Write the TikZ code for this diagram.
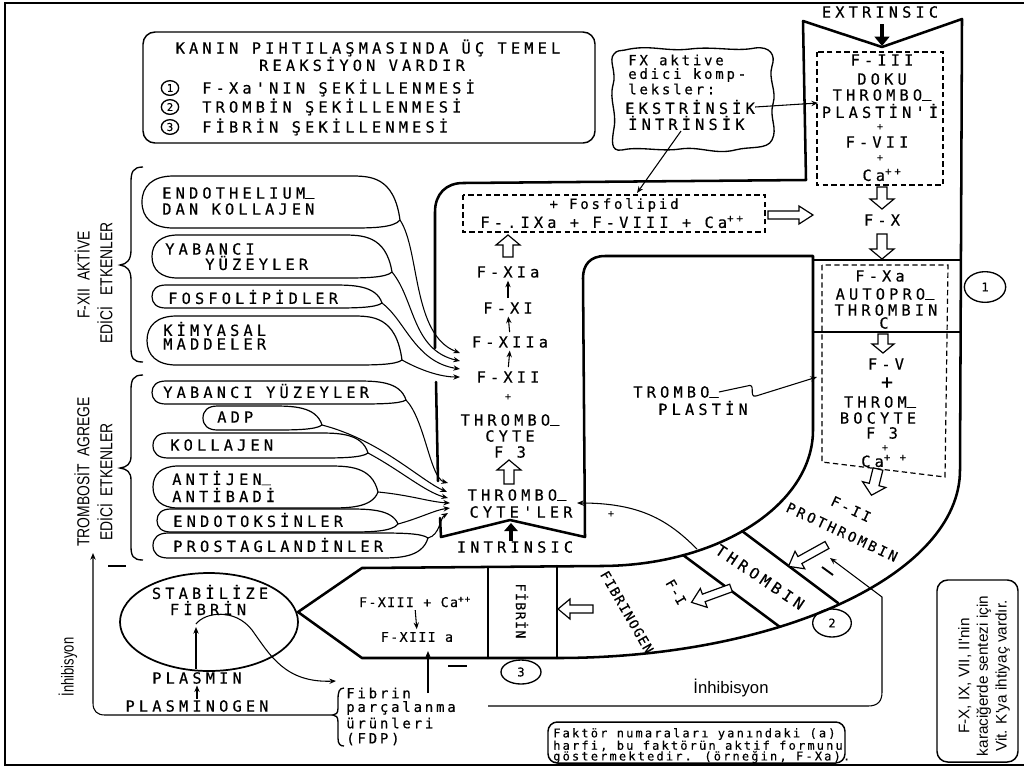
\documentclass[tikz,border=0pt]{standalone}
\usepackage{fontspec}
\setmainfont{DejaVu Sans}
\newfontfamily\lr[LetterSpace=27,FakeBold=0.4]{DejaVu Sans Mono}
\newfontfamily\lrs[LetterSpace=20,FakeBold=0.4]{DejaVu Sans Mono}
\newfontfamily\lrb[LetterSpace=10,FakeBold=0.4]{DejaVu Sans Mono}
\newfontfamily\lrt[LetterSpace=18,FakeBold=0.3]{DejaVu Sans Mono}
\newfontfamily\cond{Liberation Sans}
\usetikzlibrary{arrows.meta,shapes.geometric}

\newcommand{\usc}{\raisebox{0.22em}{\_}}

\newcommand{\bubl}[5]{%
\draw[bub] (#4,#5) .. controls ({#4-6},#2) and ({#4-30},#2) .. ({#4-50},#2)
 -- ({#1+(#3-#2)*0.6},#2)
 .. controls ({#1+(#3-#2)*0.2},#2) and (#1,{#2+(#3-#2)*0.2}) .. (#1,{(#2+#3)/2})
 .. controls (#1,{#3-(#3-#2)*0.2}) and ({#1+(#3-#2)*0.2},#3) .. ({#1+(#3-#2)*0.6},#3)
 -- ({#4-50},#3) .. controls ({#4-30},#3) and ({#4-6},#3) .. (#4,#5);}

\tikzset{pics/harrow/.style n args={4}{code={%
 \draw[line width=0.9pt, fill=white, line join=miter] (0,-#2) -- ({#1-#4},-#2) -- ({#1-#4},-#3) -- (#1,0) -- ({#1-#4},#3) -- ({#1-#4},#2) -- (0,#2) -- cycle;}}}

\begin{document}
\begin{tikzpicture}[x=0.75pt,y=-0.75pt,
 wall/.style={line width=1.9pt, line join=round, line cap=round},
 bub/.style={line width=0.9pt},
 sarr/.style={line width=0.8pt, -{Stealth[length=5pt,width=4pt]}},
 dbox/.style={line width=0.9pt, dash pattern=on 4pt off 2.5pt},
 t/.style={inner sep=0pt, font=\lr\fontsize{11.5}{12}\selectfont},
 ts/.style={inner sep=0pt, font=\lrs\fontsize{10.5}{12}\selectfont},
 tb/.style={inner sep=0pt, font=\lrb\fontsize{10}{12}\selectfont},
 tt/.style={inner sep=0pt, font=\lrt\fontsize{9}{12}\selectfont},
 vl/.style={inner sep=0pt, font=\cond\fontsize{13}{14}\selectfont, rotate=90},
 num/.style={draw, ellipse, line width=1pt, inner sep=0pt, font=\lr\fontsize{9}{10}\selectfont},
 brace/.style={line width=1pt},
 smallplus/.style={inner sep=0pt, font=\lr\fontsize{7.5}{8}\selectfont}
]
\useasboundingbox (0,0) rectangle (1024,769);
\fill[white] (0,0) rectangle (1024,769);
\draw[line width=2.2pt] (1024,3) -- (5,3) -- (5,765) -- (1024,765);

% ---------- title box
\draw[line width=1.1pt, rounded corners=9pt] (143,32) rectangle (595,143);
\node[t] (ttl1) at (368,48) {KANIN PIHTILAŞMASINDA ÜÇ TEMEL};
\node[t] (ttl2) at (362,64) {REAKSİYON VARDIR};
\node[num, minimum width=13pt, minimum height=11pt, font=\lr\fontsize{8}{8}\selectfont] (n1) at (170,88) {1};
\node[num, minimum width=13pt, minimum height=11pt, font=\lr\fontsize{8}{8}\selectfont] (n2) at (170,107) {2};
\node[num, minimum width=13pt, minimum height=11pt, font=\lr\fontsize{8}{8}\selectfont] (n3) at (170,127) {3};
\node[t, anchor=west] (ttl3) at (202,88) {F-Xa'NIN ŞEKİLLENMESİ};
\node[t, anchor=west] (ttl4) at (202,107) {TROMBİN ŞEKİLLENMESİ};
\node[t, anchor=west] (ttl5) at (202,127) {FİBRİN ŞEKİLLENMESİ};

% ---------- cloud
\draw[line width=1pt] (625,50) .. controls (650,44) and (665,52) .. (690,49) .. controls (715,46) and (735,52) .. (755,48) .. controls (770,46) and (776,55) .. (772,66) .. controls (768,80) and (777,90) .. (773,104) .. controls (769,118) and (778,128) .. (772,140) .. controls (767,150) and (750,146) .. (735,150) .. controls (715,155) and (700,146) .. (680,149) .. controls (660,152) and (640,146) .. (622,150) .. controls (610,152) and (612,140) .. (614,128) .. controls (617,112) and (609,100) .. (613,85) .. controls (617,72) and (608,60) .. (614,54) .. controls (617,50) and (620,51) .. (625,50) -- cycle;
\node[ts, anchor=west] (cl1) at (628,60) {FX aktive};
\node[ts, anchor=west] (cl2) at (628,75) {edici komp-};
\node[ts, anchor=west] (cl3) at (628,89) {leksler:};
\node[t, anchor=west] (ekstr) at (625,107) {EKSTRİNSİK};
\node[t, anchor=west] (intrk) at (628,123) {İNTRİNSİK};

% ---------- channel walls
\draw[wall] (435,348) -- (435,212) .. controls (435,194) and (446,183) .. (463,183) -- (806,180) -- (803,21) -- (882,47) -- (962,19) -- (960,470) .. controls (960,574) and (780,658) .. (557,658) -- (362,658) -- (298,612) -- (362,568) -- (600,566) .. controls (718,566) and (813,505) .. (813,430) -- (813,256) -- (605,256) .. controls (590,256) and (583,265) .. (583,278) -- (585,537) -- (510,520) -- (441,537) -- (440,518);
\draw[wall] (436,382) -- (438,481);
\draw[wall] (813,260) -- (960,260);
\draw[wall] (813,332) -- (960,332);
\draw[wall] (488,567) -- (488,658);
\draw[wall] (557,566) -- (557,658);
\draw[wall] (742,531) -- (838,603);
\draw[wall] (683,555) -- (780,627);

% ---------- dashed boxes
\draw[dbox] (817,52) rectangle (943,185);
\draw[dbox] (463,195) rectangle (765,232);
\draw[dbox] (822,265) -- (822,462) -- (945,477) -- (948,265) -- cycle;

% ---------- extrinsic column
\node[t] (extr) at (880,12) {EXTRINSIC};
\coordinate (exa) at (882,24); \coordinate (exb) at (882,46);
\draw[line width=3.5pt, -{Triangle[length=7pt,width=11pt]}] (exa) -- (exb);
\node[t] (r1) at (882,60) {F-III};
\node[t] (r2) at (882,79) {DOKU};
\node[t] (r3) at (882,95) {THROMBO\usc};
\node[t] (r4) at (880,111) {PLASTİN'İ};
\node[smallplus] (r5) at (880,127) {+};
\node[t] (r6) at (877,142) {F-VII};
\node[smallplus] (r7) at (880,158) {+};
\node[t] (r8) at (882,175) {Ca\textsuperscript{++}};
\pic[rotate=-90] at (882,187) {harrow={22}{5}{12}{10}};
\node[t] (fx) at (882,220) {F-X};
\pic[rotate=-90] at (882,234) {harrow={25}{5}{12}{10}};
\node[t] (fxa) at (880,276) {F-Xa};
\node[t] (ap1) at (885,294) {AUTOPRO\usc};
\node[t] (ap2) at (886,310) {THROMBIN};
\node[t] (ap3) at (884,323) {C};
\pic[rotate=-90] at (883,334) {harrow={19}{5}{11}{9}};
\node[t] (fv) at (886,364) {F-V};
\node[t, font=\lr\fontsize{15}{16}\selectfont] (plv) at (887,383) {+};
\node[t] (th1) at (880,402) {THROM\usc};
\node[t] (th2) at (878,418) {BOCYTE};
\node[t] (f3b) at (882,433) {F 3};
\node[smallplus] (pl2) at (885,448) {+};
\node[t] (ca2) at (884,461) {Ca\textsuperscript{+ +}};
\pic[rotate=-104] at (878,469) {harrow={27}{5}{12}{11}};
\node[ts, rotate=-25] (fii) at (851,509) {F-II};
\node[ts, rotate=-25] (proth) at (842,532) {PROTHROMBIN};
\node[num, minimum width=31pt, minimum height=23pt] (c1) at (985,287) {1};

% ---------- intrinsic column
\node[ts] (fosf) at (614,205) {+ Fosfolipid};
\node[t] (ixa) at (612,222) {F-.IXa + F-VIII + Ca\textsuperscript{++}};
\pic at (768,215) {harrow={45}{4}{9}{14}};
\pic[rotate=90] at (508,257) {harrow={22}{5}{12}{10}};
\node[t] (fxia) at (508,272) {F-XIa};
\node[t] (fxi) at (508,308) {F-XI};
\node[t] (fxiia) at (510,342) {F-XIIa};
\node[t] (fxii) at (508,377) {F-XII};
\draw[sarr, shorten <=3pt, shorten >=2pt] (fxi.north) -- (fxia.south);
\draw[sarr, shorten <=3pt, shorten >=2pt] (fxiia.north) -- (fxi.south);
\draw[sarr, shorten <=3pt, shorten >=2pt] (fxii.north) -- (fxiia.south);
\node[smallplus] (plc) at (508,397) {+};
\node[t] (tc1) at (510,420) {THROMBO\usc};
\node[t] (tc2) at (510,436) {CYTE};
\node[t] (tc3) at (510,452) {F 3};
\pic[rotate=90] at (509,484) {harrow={24}{5}{12}{10}};
\node[t] (tcl1) at (517,495) {THROMBO\usc};
\node[t] (tcl2) at (521,512) {CYTE'LER};
\coordinate (ina) at (511,541); \coordinate (inb) at (511,523);
\draw[line width=3.5pt, -{Triangle[length=6pt,width=10pt]}] (ina) -- (inb);
\node[t] (intr) at (515,547) {INTRINSIC};

% cloud leaders
\coordinate (ekt) at (818,103);
\draw[sarr] (ekstr.east) -- (ekt);
\coordinate (int0) at (681,131); \coordinate (intt) at (637,193);
\draw[sarr] (int0) -- (intt);

% tromboplastin leader
\node[t] (tp1) at (676,392) {TROMBO\usc};
\node[t] (tp2) at (703,408) {PLASTİN};
\coordinate (tpt) at (817,377);
\draw[sarr] (tp1.east) -- (747,386) .. controls (757,382) and (748,398) .. (756,396) -- (tpt);

% thrombin feedback
\coordinate (fbs) at (697,549); \coordinate (fbt) at (577,503);
\draw[sarr] (fbs) .. controls (668,520) and (640,503) .. (fbt);
\node[smallplus] (fbp) at (611,514) {+};

% ---------- thrombin band and lower arm
\node[t, rotate=-34] (thr) at (760,577) {THROMBIN};
\pic[rotate=-151] at (827,545) {harrow={44}{4}{10}{13}};
\draw[line width=1.4pt] (822,567) -- (833,575);
\node[num, minimum width=29pt, minimum height=21pt] (c2) at (832,623) {2};
\node[tb, rotate=-60] (fi) at (676,592) {F-I};
\pic[rotate=-160] at (731,588) {harrow={42}{4}{10}{13}};
\node[tb, rotate=-60] (fgen) at (627,612) {FIBRINOGEN};
\pic[rotate=180] at (593,609) {harrow={35}{4}{10}{12}};
\node[tb, rotate=-90] (fib) at (522,611) {FİBRİN};
\node[num, minimum width=30pt, minimum height=18pt] (c3) at (521,672) {3};
\node[tb] (fx13) at (415,602) {F-XIII + Ca\textsuperscript{++}};
\node[tb] (fx13a) at (417,637) {F-XIII a};
\draw[sarr, shorten <=2pt, shorten >=2pt] (fx13.south) -- (fx13a.north);
\coordinate (upa) at (428,693); \coordinate (upb) at (428,651);
\draw[sarr] (upa) -- (upb);
\draw[line width=1.6pt] (448,666) -- (467,666);

% ---------- stabilize fibrin
\draw[line width=1.3pt] (209,622) ellipse [x radius=89, y radius=49];
\node[t] (stab1) at (210,592) {STABİLİZE};
\node[t] (stab2) at (208,608) {FİBRİN};
\node[t] (plas) at (197,678) {PLASMIN};
\node[t] (plgen) at (197,706) {PLASMINOGEN};
\coordinate (stin) at (196,627);
\draw[sarr, shorten <=2pt] (plas.north -| stin) -- (stin);
\draw[sarr, shorten <=1pt, shorten >=1pt] (plgen.north) -- (plas.south);
\coordinate (fdps) at (196,624); \coordinate (fdpt) at (336,681);
\draw[sarr] (fdps) .. controls (205,612) and (235,608) .. (252,630) .. controls (270,655) and (285,683) .. (fdpt);
\node[ts, anchor=west] (fdp1) at (346,693) {Fibrin};
\node[ts, anchor=west] (fdp2) at (346,708) {parçalanma};
\node[ts, anchor=west] (fdp3) at (346,723) {ürünleri};
\node[ts, anchor=west] (fdp4) at (346,739) {(FDP)};
\coordinate (brtip) at (333,715);
\draw[brace] (344,688) .. controls (339,688) and (338,692) .. (338,700) -- (338,708) .. controls (338,713) and (336,715) .. (brtip) .. controls (336,715) and (338,717) .. (338,722) -- (338,738) .. controls (338,744) and (340,746) .. (344,746);

% ---------- inhibition loops
\coordinate (inhL) at (93,553);
\draw[sarr] (brtip) -- (105,715) .. controls (97,715) and (93,711) .. (93,703) -- (inhL);
\draw[line width=1.6pt] (108,566) -- (126,566);
\node[vl] (inhl) at (68,667) {\scalebox{0.75}[1]{İnhibisyon}};
\coordinate (inhR0) at (488,706); \coordinate (inhRt) at (830,558);
\draw[sarr] (inhR0) -- (868,706) .. controls (878,706) and (882,701) .. (882,692) -- (882,597) -- (inhRt);
\node[inner sep=0pt, font=\cond\fontsize{12.5}{13}\selectfont] (inhb) at (731,688) {İnhibisyon};

% ---------- left group labels and braces
\node[vl] (la1) at (82,275) {\scalebox{0.8}[1]{F-XII\ \ AKTİVE}};
\node[vl] (la2) at (105,283) {\scalebox{0.8}[1]{EDİCİ\ \ \ ETKENLER}};
\node[vl] (lb1) at (82,472) {\scalebox{0.8}[1]{TROMBOSİT\ \ AGREGE}};
\node[vl] (lb2) at (105,482) {\scalebox{0.8}[1]{EDİCİ\ \ ETKENLER}};
\draw[brace] (143,167) .. controls (133,167) and (131,172) .. (131,182) -- (131,250) .. controls (131,260) and (127,264) .. (120,265) .. controls (127,266) and (131,270) .. (131,280) -- (131,348) .. controls (131,358) and (133,362) .. (143,362);
\draw[brace] (143,375) .. controls (133,375) and (131,380) .. (131,390) -- (131,456) .. controls (131,464) and (127,467) .. (120,468) .. controls (127,469) and (131,472) .. (131,480) -- (131,546) .. controls (131,556) and (133,560) .. (143,560);

% ---------- F-XII activating bubbles
\bubl{142}{176}{228}{400}{220}
\bubl{152}{235}{278}{392}{272}
\bubl{152}{285}{308}{382}{303}
\bubl{147}{316}{365}{402}{360}
\node[t, anchor=west] (b1a) at (162,193) {ENDOTHELIUM\usc};
\node[t, anchor=west] (b1b) at (162,209) {DAN KOLLAJEN};
\node[t, anchor=west] (b2a) at (165,249) {YABANCI};
\node[t, anchor=west] (b2b) at (205,263) {YÜZEYLER};
\node[t, anchor=west] (b3) at (168,297) {FOSFOLİPİDLER};
\node[t, anchor=west] (b4a) at (163,329) {KİMYASAL};
\node[t, anchor=west] (b4b) at (163,344) {MADDELER};
\coordinate (tB1) at (400,220); \coordinate (eB1) at (460,353);
\coordinate (tB2) at (392,272); \coordinate (eB2) at (460,361);
\coordinate (tB3) at (382,303); \coordinate (eB3) at (460,369);
\coordinate (tB4) at (402,360); \coordinate (eB4) at (460,377);
\draw[sarr] (tB1) .. controls (420,250) and (412,335) .. (eB1);
\draw[sarr] (tB2) .. controls (415,300) and (412,350) .. (eB2);
\draw[sarr] (tB3) .. controls (405,320) and (415,362) .. (eB3);
\draw[sarr] (tB4) .. controls (420,370) and (440,377) .. (eB4);

% ---------- thrombocyte aggregating bubbles
\bubl{152}{381}{404}{406}{400}
\bubl{203}{406}{430}{322}{425}
\bubl{153}{433}{458}{368}{453}
\bubl{153}{466}{508}{378}{492}
\bubl{157}{509}{532}{398}{524}
\bubl{153}{533}{558}{428}{538}
\node[t, anchor=west] (c1t) at (163,391) {YABANCI YÜZEYLER};
\node[t, anchor=west] (c2t) at (217,417) {ADP};
\node[t, anchor=west] (c3t) at (170,445) {KOLLAJEN};
\node[t, anchor=west] (c4a) at (172,478) {ANTİJEN\usc};
\node[t, anchor=west] (c4b) at (172,495) {ANTİBADİ};
\node[t, anchor=west] (c5t) at (173,520) {ENDOTOKSİNLER};
\node[t, anchor=west] (c6t) at (173,545) {PROSTAGLANDİNLER};
\coordinate (tC1) at (406,400); \coordinate (eC1) at (448,483);
\coordinate (tC2) at (322,425); \coordinate (eC2) at (447,492);
\coordinate (tC3) at (368,453); \coordinate (eC3) at (448,498);
\coordinate (tC4) at (378,492); \coordinate (eC4) at (450,503);
\coordinate (tC5) at (398,524); \coordinate (eC5) at (450,508);
\coordinate (tC6) at (428,538); \coordinate (eC6) at (448,513);
\draw[sarr] (tC1) .. controls (425,420) and (430,478) .. (eC1);
\draw[sarr] (tC2) .. controls (380,440) and (420,480) .. (eC2);
\draw[sarr] (tC3) .. controls (400,470) and (425,492) .. (eC3);
\draw[sarr] (tC4) .. controls (410,495) and (430,502) .. (eC4);
\draw[sarr] (tC5) .. controls (420,518) and (435,510) .. (eC5);
\draw[sarr] (tC6) .. controls (440,535) and (440,518) .. (eC6);

% ---------- notes
\draw[line width=1.1pt, rounded corners=7pt] (548,722) rectangle (845,763);
\node[tt, anchor=west] (fk1) at (553,734) {Faktör numaraları yanındaki (a)};
\node[tt, anchor=west] (fk2) at (553,746) {harfi, bu faktörün aktif formunu};
\node[tt, anchor=west] (fk3) at (553,757) {göstermektedir. (örneğin, F-Xa).};
\draw[line width=1.1pt, rounded corners=8pt] (937,580) rectangle (1018,762);
\node[inner sep=0pt, rotate=90, align=center, font=\cond\fontsize{11.5}{14}\selectfont] (vitk) at (984,676) {F-X, IX, VII, II'nin\\karaciğerde sentezi için\\Vit. K'ya ihtiyaç vardır.};
\end{tikzpicture}
\end{document}
